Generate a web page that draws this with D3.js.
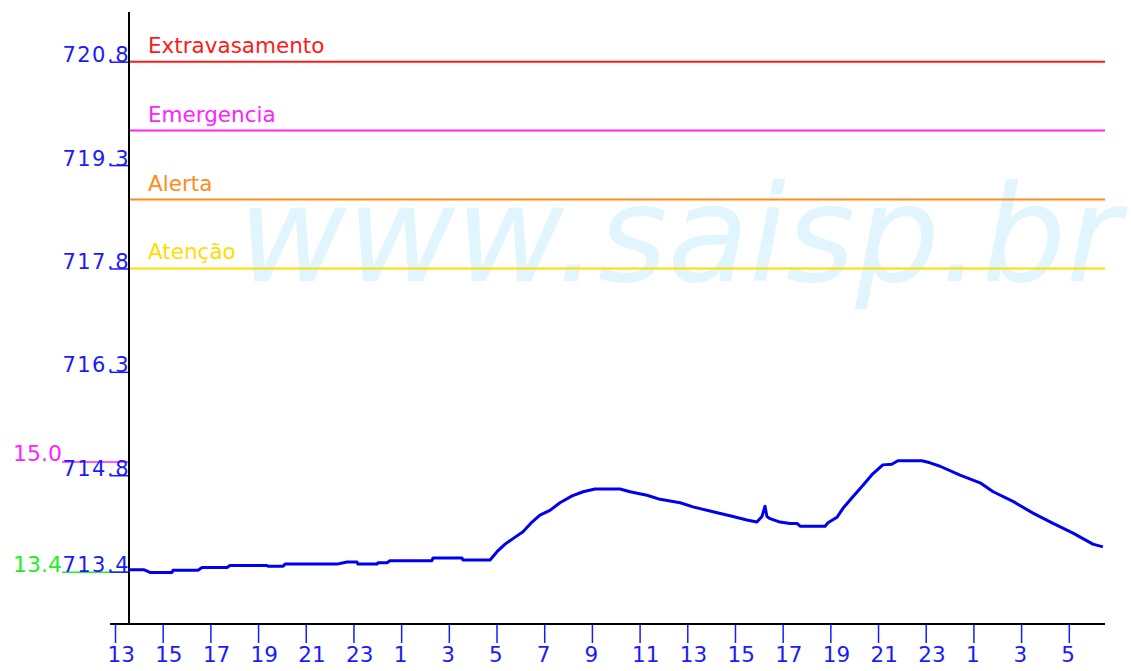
<!DOCTYPE html>
<html>
<head>
<meta charset="utf-8">
<script src="https://cdn.jsdelivr.net/npm/d3@7"></script>
<style>
  html, body { margin: 0; padding: 0; background: #ffffff; }
  svg { display: block; }
  text { font-family: "DejaVu Sans", Verdana, sans-serif; }
</style>
</head>
<body>
<svg id="chart" width="1131" height="671"></svg>
<script>
// ---------- DATA ----------
// hours since 13:00 of the first day
const tickHours = [0,2,4,6,8,10,12,14,16,18,20,22,24,26,28,30,32,34,36,38,40];
const tickLabels = ["13","15","17","19","21","23","1","3","5","7","9","11","13","15","17","19","21","23","1","3","5"];

const yTickValues = [713.4, 714.8, 716.3, 717.8, 719.3, 720.8];
const yTickLabels = ["713.4", "714.8", "716.3", "717.8", "719.3", "720.8"];

const refNames  = ["Extravasamento", "Emergencia", "Alerta", "Atenção"];
const refValues = [720.8, 719.8, 718.8, 717.8];
const refColors = ["#ff1a1a", "#ff22ff", "#ff8c1a", "#ffdd00"];

const markerLabels = ["15.0", "13.4"];
const markerValues = [715.0, 713.4];
const markerColors = ["#ff22ff", "#22ee22"];

const seriesHours = [0.59,1.2,1.47,2.39,2.43,3.48,3.65,4.70,4.82,6.37,6.42,7.05,7.13,9.31,9.73,10.15,10.19,10.99,11.03,11.41,11.53,13.29,13.34,14.55,14.59,15.73,
  16.02,16.36,16.69,17.11,17.49,17.82,18.24,18.66,19.17,19.63,20.13,21.18,21.60,22.31,22.86,23.70,24.24,25.08,25.92,26.50,26.92,
  27.13,27.26,27.34,27.47,27.89,28.31,28.60,28.73,29.78,29.90,30.28,30.53,30.90,31.36,31.78,32.20,32.58,32.83,33.84,34.18,34.60,
  35.44,36.28,36.83,37.66,38.50,39.34,40.18,41.01,41.43];
const seriesLevels = [713.43,713.43,713.39,713.39,713.42,713.42,713.46,713.46,713.49,713.49,713.48,713.48,713.51,713.51,713.54,713.54,713.51,713.51,713.53,713.53,713.56,713.56,713.60,713.60,713.57,713.57,
  713.69,713.80,713.88,713.98,714.12,714.22,714.29,714.40,714.50,714.56,714.60,714.60,714.56,714.51,714.45,714.40,714.34,714.27,714.20,714.15,714.12,
  714.20,714.35,714.20,714.17,714.12,714.10,714.10,714.06,714.06,714.11,714.19,714.32,714.47,714.65,714.82,714.95,714.96,715.01,715.01,714.98,714.93,
  714.80,714.69,714.56,714.42,714.25,714.10,713.96,713.80,713.76];

const watermark = "www.saisp.br";

// ---------- LAYOUT ----------
const svg = d3.select("#chart");
const axisX = 129, plotTop = 12, plotBottom = 624, xAxisLeft = 110, plotRight = 1105;

const x = d3.scaleLinear().domain([0, 40]).range([115, 1068.8]);
const y = d3.scaleLinear().domain([713.4, 720.8]).range([571.7, 61.7]);

svg.append("rect").attr("width", 1131).attr("height", 671).attr("fill", "#ffffff");

// watermark
svg.append("text")
  .attr("x", 238).attr("y", 281)
  .attr("font-size", 133)
  .attr("font-style", "italic")
  .attr("fill", "#e0f5fd")
  .text(watermark);

// reference lines
const refs = refNames.map((n, i) => ({name: n, value: refValues[i], color: refColors[i]}));
svg.selectAll(".ref").data(refs).enter().append("line")
  .attr("x1", axisX).attr("x2", plotRight)
  .attr("y1", d => y(d.value)).attr("y2", d => y(d.value))
  .attr("stroke", d => d.color).attr("stroke-width", 2);
svg.selectAll(".refLabel").data(refs).enter().append("text")
  .attr("x", 148).attr("y", d => y(d.value) - 9)
  .attr("font-size", 21.5)
  .attr("fill", d => d.color)
  .text(d => d.name);

// marker lines (left side secondary labels)
const markers = markerLabels.map((l, i) => ({label: l, value: markerValues[i], color: markerColors[i]}));
svg.selectAll(".mk").data(markers).enter().append("line")
  .attr("x1", 62).attr("x2", axisX)
  .attr("y1", d => y(d.value) + 0.5).attr("y2", d => y(d.value) + 0.5)
  .attr("stroke", d => d.color).attr("stroke-width", 1.5);
svg.selectAll(".mkLabel").data(markers).enter().append("text")
  .attr("x", 62).attr("y", d => y(d.value))
  .attr("text-anchor", "end")
  .attr("font-size", 22)
  .attr("fill", d => d.color)
  .text(d => d.label);

// y axis
const yAxis = d3.axisLeft(y).tickValues(yTickValues).tickSize(19)
  .tickFormat((d, i) => yTickLabels[i]);
const gy = svg.append("g").attr("transform", `translate(${axisX},0)`).call(yAxis);
gy.select(".domain").remove();
gy.selectAll(".tick line").attr("stroke", "#1a1aff").attr("stroke-width", 1.5);
gy.selectAll(".tick text")
  .attr("x", 1).attr("dy", 0).attr("y", 0)
  .attr("text-anchor", "end")
  .attr("font-size", 21)
  .attr("letter-spacing", "1.5px")
  .attr("font-family", "DejaVu Sans")
  .attr("fill", "#1a1aff");

// x axis
const xAxis = d3.axisBottom(x).tickValues(tickHours).tickSize(19)
  .tickFormat((d, i) => tickLabels[i]);
const gx = svg.append("g").attr("transform", `translate(0,${plotBottom})`).call(xAxis);
gx.select(".domain").remove();
gx.selectAll(".tick line").attr("stroke", "#1a1aff").attr("stroke-width", 1.5);
gx.selectAll(".tick text")
  .attr("x", -8).attr("y", 38).attr("dy", 0)
  .attr("text-anchor", "start")
  .attr("font-size", 21.5)
  .attr("font-family", "DejaVu Sans")
  .attr("fill", "#1a1aff");

// axis lines
svg.append("line").attr("x1", axisX).attr("x2", axisX).attr("y1", plotTop).attr("y2", plotBottom)
  .attr("stroke", "#000").attr("stroke-width", 2);
svg.append("line").attr("x1", xAxisLeft).attr("x2", plotRight).attr("y1", plotBottom).attr("y2", plotBottom)
  .attr("stroke", "#000").attr("stroke-width", 2);

// series
const series = seriesHours.map((h, i) => ({h: h, v: seriesLevels[i]}));
svg.append("path").datum(series)
  .attr("fill", "none")
  .attr("stroke", "#0000ee")
  .attr("stroke-width", 3)
  .attr("stroke-linejoin", "round")
  .attr("d", d3.line().x(d => x(d.h)).y(d => y(d.v)));
</script>
</body>
</html>
